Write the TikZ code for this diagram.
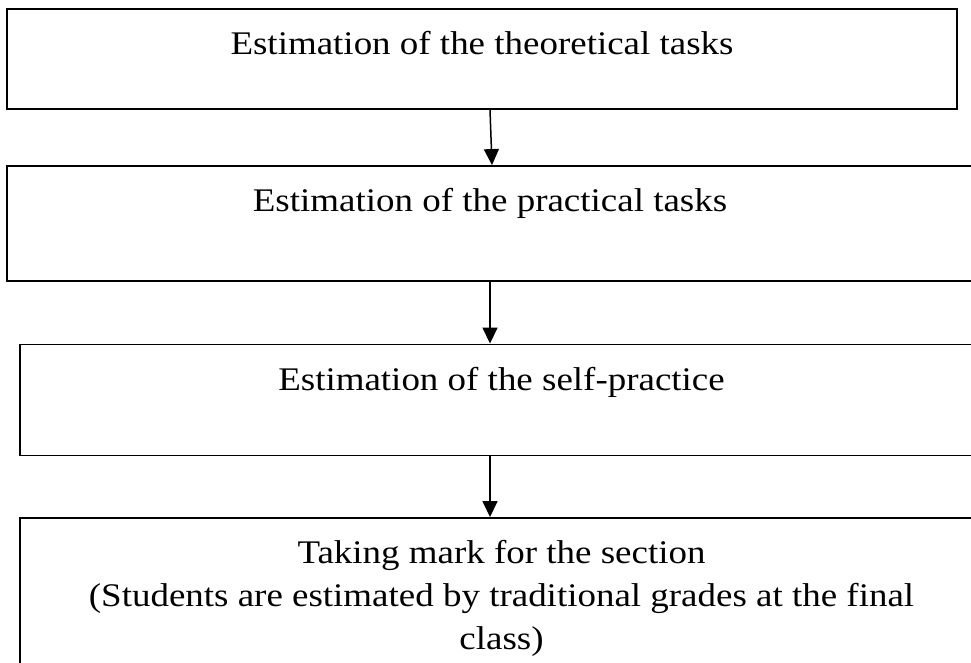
\documentclass[tikz,border=0pt]{standalone}
\usepackage{fontspec}
\setmainfont[FakeStretch=1.12]{Liberation Serif}
\usetikzlibrary{arrows.meta}

\tikzset{
  stepbox/.style={rectangle,draw,line width=1.9pt,inner sep=0pt},
  steptext/.style={inner sep=0pt,anchor=base,align=center,
    font=\fontsize{33}{43}\selectfont},
  flow/.style={line width=1.5pt,-{Triangle[width=15pt,length=16pt]}}
}

\begin{document}
\begin{tikzpicture}[x=1pt,y=-1pt]

      \clip (0,0) rectangle (971,662);

      \begin{scope}[every node/.style={stepbox}]
        \node[minimum width=950pt,minimum height=100pt] (theory)   at (482,59)    {};
        \node[minimum width=966pt,minimum height=115pt] (practice) at (490,223.5) {};
        \node[minimum width=963pt,minimum height=111pt] (self)     at (501.5,400) {};
        \node[minimum width=963pt,minimum height=200pt] (mark)     at (501.5,618) {};
      \end{scope}

      \begin{scope}[every node/.style={steptext}]
        \node (theorytxt)   at (482,54)    {Estimation of the theoretical tasks};
        \node (practicetxt) at (490,211)   {Estimation of the practical tasks};
        \node (selftxt)     at (501.5,390) {Estimation of the self-practice};
        % base of a multi-line node sits on its last line
        \node (marktxt)     at (501.5,649) {Taking mark for the section\\
          (Students are estimated by traditional grades at the final\\class)};
      \end{scope}

      \draw[flow] (theory.south -| practice.north) -- ([xshift=2pt]practice.north);
      \draw[flow] (practice.south) -- (practice.south |- self.north);
      \draw[flow] (practice.south |- self.south) -- (practice.south |- mark.north);

    \end{tikzpicture}
\end{document}
